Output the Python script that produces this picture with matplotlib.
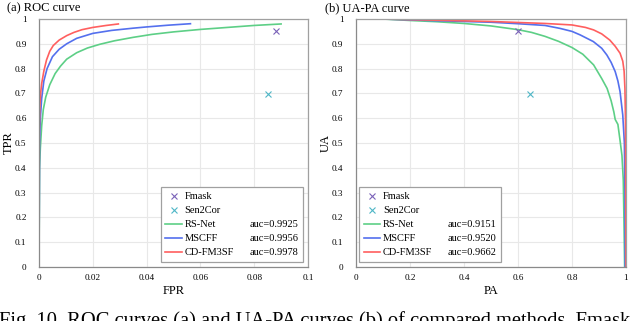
import matplotlib
matplotlib.use("Agg")
import matplotlib.pyplot as plt
from matplotlib.lines import Line2D

plt.rcParams['font.family'] = ['Liberation Serif', 'DejaVu Serif']

# ---------------- data ----------------
methods = ["RS-Net", "MSCFF", "CD-FM3SF"]
roc_auc = ["auc=0.9925", "auc=0.9956", "auc=0.9978"]
uapa_auc = ["auc=0.9151", "auc=0.9520", "auc=0.9662"]

roc_rs_fpr = [0, 0.0002, 0.0005, 0.001, 0.0016, 0.0025, 0.004, 0.006, 0.008, 0.0103, 0.014, 0.018, 0.0226, 0.028, 0.035, 0.042, 0.05, 0.06, 0.07, 0.08, 0.09]
roc_rs_tpr = [0, 0.40, 0.48, 0.57, 0.635, 0.685, 0.735, 0.78, 0.81, 0.838, 0.864, 0.883, 0.898, 0.912, 0.926, 0.938, 0.948, 0.958, 0.966, 0.974, 0.980]
roc_ms_fpr = [0, 0.0002, 0.0005, 0.001, 0.0018, 0.003, 0.005, 0.0075, 0.0103, 0.014, 0.02, 0.027, 0.035, 0.04, 0.048, 0.0563]
roc_ms_tpr = [0, 0.50, 0.60, 0.68, 0.75, 0.80, 0.848, 0.878, 0.900, 0.922, 0.942, 0.954, 0.963, 0.968, 0.975, 0.981]
roc_cd_fpr = [0, 0.0001, 0.0003, 0.0006, 0.001, 0.0018, 0.0028, 0.004, 0.0053, 0.0075, 0.0103, 0.013, 0.016, 0.02, 0.025, 0.0295]
roc_cd_tpr = [0, 0.55, 0.64, 0.70, 0.74, 0.79, 0.835, 0.870, 0.893, 0.915, 0.933, 0.946, 0.957, 0.966, 0.974, 0.980]

roc_fmask = (0.0881, 0.952)
roc_sen2cor = (0.0853, 0.696)

pa_rs = [0.1, 0.2, 0.3, 0.4, 0.5, 0.6, 0.65, 0.7, 0.75, 0.8, 0.84, 0.88, 0.91, 0.93, 0.945, 0.955, 0.96, 0.965, 0.97, 0.978, 0.985, 0.99, 0.993, 0.995]
ua_rs = [1.0, 0.994, 0.989, 0.982, 0.972, 0.957, 0.946, 0.93, 0.91, 0.885, 0.858, 0.815, 0.76, 0.72, 0.67, 0.625, 0.595, 0.585, 0.575, 0.51, 0.45, 0.35, 0.15, 0.0]
pa_ms = [0.1, 0.3, 0.5, 0.6, 0.7, 0.756, 0.8, 0.83, 0.879, 0.91, 0.929, 0.945, 0.96, 0.97, 0.978, 0.988, 0.994, 0.996, 0.997]
ua_ms = [1.0, 0.993, 0.987, 0.981, 0.974, 0.962, 0.95, 0.936, 0.909, 0.882, 0.855, 0.825, 0.788, 0.75, 0.707, 0.613, 0.5, 0.3, 0.0]
pa_cd = [0.1, 0.3, 0.5, 0.6, 0.7, 0.8, 0.85, 0.88, 0.91, 0.94, 0.96, 0.978, 0.988, 0.993, 0.996, 0.998, 0.999, 1.0]
ua_cd = [1.0, 0.995, 0.99, 0.986, 0.982, 0.976, 0.966, 0.956, 0.94, 0.915, 0.89, 0.862, 0.83, 0.79, 0.72, 0.6, 0.3, 0.0]

uapa_fmask = (0.601, 0.952)
uapa_sen2cor = (0.643, 0.696)

roc_xticks = [0, 0.02, 0.04, 0.06, 0.08, 0.1]
roc_xticklabels = ["0", "0.02", "0.04", "0.06", "0.08", "0.1"]
pa_xticks = [0, 0.2, 0.4, 0.6, 0.8, 1.0]
pa_xticklabels = ["0", "0.2", "0.4", "0.6", "0.8", "1"]
yticks = [0, 0.1, 0.2, 0.3, 0.4, 0.5, 0.6, 0.7, 0.8, 0.9, 1.0]
yticklabels = ["0", "0.1", "0.2", "0.3", "0.4", "0.5", "0.6", "0.7", "0.8", "0.9", "1"]

caption = "Fig. 10. ROC curves (a) and UA-PA curves (b) of compared methods. Fmask"

# ---------------- style ----------------
c_rs = "#5dcf86"
c_ms = "#5470ee"
c_cd = "#ff5f5f"
c_fm = "#7a62b8"
c_s2 = "#4fb6c6"
spine_c = "#a0a0a0"
grid_c = "#e8e8e8"

fig = plt.figure(figsize=(6.4, 3.21), dpi=100)
axL = fig.add_axes([39/640, 1-267/321, 269/640, 248/321])
axR = fig.add_axes([356/640, 1-267/321, 270/640, 248/321])


def style(ax, xticks, xlabels, xlim):
    ax.set_xlim(*xlim)
    ax.set_ylim(0, 1)
    ax.set_xticks(xticks)
    ax.set_xticklabels(xlabels)
    ax.set_yticks(yticks)
    ax.set_yticklabels(yticklabels)
    ax.tick_params(length=0, labelsize=6.6)
    ax.tick_params(axis='y', pad=9)
    ax.tick_params(axis='x', pad=5)
    ax.grid(True, color=grid_c, linewidth=0.8)
    ax.set_axisbelow(True)
    for s in ax.spines.values():
        s.set_color(spine_c)
        s.set_linewidth(0.9)
    ax.spines['bottom'].set_color('#8a8a8a')
    ax.spines['left'].set_color('#8a8a8a')


def make_legend(ax, names, aucs, loc, anchor):
    h = [
        Line2D([], [], color=c_fm, marker='x', linestyle='none', markersize=4, markeredgewidth=0.8),
        Line2D([], [], color=c_s2, marker='x', linestyle='none', markersize=4, markeredgewidth=0.8),
        Line2D([], [], color=c_rs, linewidth=1.2),
        Line2D([], [], color=c_ms, linewidth=1.2),
        Line2D([], [], color=c_cd, linewidth=1.2),
    ]
    blank = [Line2D([], [], linestyle='none') for _ in range(5)]
    labels = ["Fmask", "Sen2Cor"] + names + ["", ""] + aucs
    leg = ax.legend(h + blank, labels, ncol=2, loc=loc, bbox_to_anchor=anchor,
                    borderaxespad=0, fontsize=7.5, frameon=True, fancybox=False,
                    edgecolor=spine_c, framealpha=1, handlelength=1.6,
                    handletextpad=0.25, columnspacing=-0.4, labelspacing=0.45,
                    borderpad=0.45)
    leg.get_frame().set_linewidth(0.9)
    return leg


# ---- ROC ----
style(axL, roc_xticks, roc_xticklabels, (0, 0.1))
axL.plot(roc_rs_fpr, roc_rs_tpr, color=c_rs, linewidth=1.2)
axL.plot(roc_ms_fpr, roc_ms_tpr, color=c_ms, linewidth=1.2)
axL.plot(roc_cd_fpr, roc_cd_tpr, color=c_cd, linewidth=1.2)
axL.plot([roc_fmask[0]], [roc_fmask[1]], marker='x', color=c_fm, markersize=4, markeredgewidth=0.8, linestyle='none')
axL.plot([roc_sen2cor[0]], [roc_sen2cor[1]], marker='x', color=c_s2, markersize=4, markeredgewidth=0.8, linestyle='none')
axL.set_xlabel("FPR", fontsize=9, labelpad=2)
axL.set_ylabel("TPR", fontsize=9, labelpad=0.5)
make_legend(axL, methods, roc_auc, 'lower right', (0.981, 0.02))

# ---- UA-PA ----
style(axR, pa_xticks, pa_xticklabels, (0, 1))
axR.plot(pa_rs, ua_rs, color=c_rs, linewidth=1.2)
axR.plot(pa_ms, ua_ms, color=c_ms, linewidth=1.2)
axR.plot(pa_cd, ua_cd, color=c_cd, linewidth=1.2)
axR.plot([uapa_fmask[0]], [uapa_fmask[1]], marker='x', color=c_fm, markersize=4, markeredgewidth=0.8, linestyle='none')
axR.plot([uapa_sen2cor[0]], [uapa_sen2cor[1]], marker='x', color=c_s2, markersize=4, markeredgewidth=0.8, linestyle='none')
axR.set_xlabel("PA", fontsize=9, labelpad=2)
axR.set_ylabel("UA", fontsize=9, labelpad=0.5)
make_legend(axR, methods, uapa_auc, 'lower left', (0.011, 0.02))

fig.text(7/640, 1-8/321, "(a) ROC curve", fontsize=9, va='center', ha='left')
fig.text(325/640, 1-8/321, "(b) UA-PA curve", fontsize=9, va='center', ha='left')
fig.text(-0.002, 1-326/321, caption, fontsize=14.8, va='baseline', ha='left')

fig.savefig("out.png", dpi=100)
